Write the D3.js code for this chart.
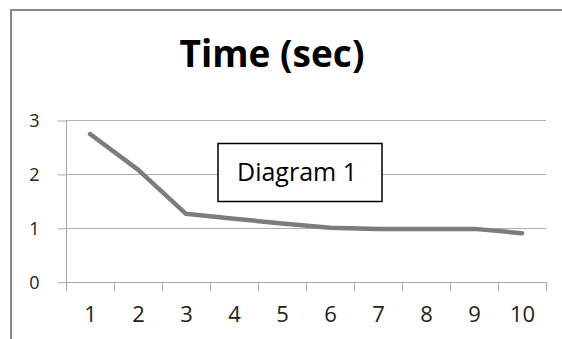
<!DOCTYPE html>
<html><head><meta charset="utf-8">
<script src="https://cdn.jsdelivr.net/npm/d3@7/dist/d3.min.js"></script>
<style>html,body{margin:0;padding:0;background:#fff;overflow:hidden}</style>
</head><body>
<script>
const categories = ["1","2","3","4","5","6","7","8","9","10"];
const timeValues = [2.74, 2.08, 1.26, 1.17, 1.08, 1.0, 0.98, 0.98, 0.98, 0.9];
const yTicks = [0, 1, 2, 3];
const titleText = "Time (sec)";
const noteText = "Diagram 1";

const W = 562, H = 339;
const font = "'Open Sans', sans-serif";
const svg = d3.select("body").append("svg").attr("width", W).attr("height", H);

// outer chart border (top and left visible)
svg.append("path").attr("d", `M11,${H} V10 H${W}`)
  .attr("fill", "none").attr("stroke", "#878787").attr("stroke-width", 2);

const x = d3.scaleBand().domain(categories).range([66, 546]);
const y = d3.scaleLinear().domain([0, 3]).range([281.7, 120]);

// gridlines
svg.append("g").selectAll("line").data(yTicks.filter(d => d > 0)).join("line")
  .attr("x1", 66).attr("x2", 546)
  .attr("y1", d => Math.round(y(d)) + 0.5).attr("y2", d => Math.round(y(d)) + 0.5)
  .attr("stroke", "#b0b0b0").attr("stroke-width", 1);

// y axis
const yAxis = svg.append("g").attr("transform", "translate(66.5,0.5)")
  .call(d3.axisLeft(y).tickValues(yTicks).tickSize(9).tickPadding(18).tickFormat(d3.format("d")));
yAxis.select(".domain").attr("stroke", "#a8a8a8").attr("d", `M-0,${y(3)}V${y(0)+8}`);
yAxis.selectAll(".tick line").attr("stroke", "#a8a8a8");
yAxis.selectAll("text").attr("font-family", font).attr("font-size", 18).attr("fill", "#222")
  .attr("dy", "0.35em");

// x axis
const xAxis = svg.append("g").attr("transform", `translate(0.5,${Math.round(y(0)) + 0.5})`)
  .call(d3.axisBottom(x).tickSizeOuter(0).tickSize(0).tickPadding(24));
xAxis.select(".domain").attr("stroke", "#a8a8a8").attr("d", "M66,0H546");
xAxis.selectAll(".tick text").attr("font-family", font).attr("font-size", 22).attr("fill", "#222");
// category boundary tick marks
svg.append("g").selectAll("line").data(categories.concat(["_end"])).join("line")
  .attr("x1", (d, i) => Math.round(i < categories.length ? x(d) : x.range()[1]) + 0.5)
  .attr("x2", (d, i) => Math.round(i < categories.length ? x(d) : x.range()[1]) + 0.5)
  .attr("y1", Math.round(y(0))).attr("y2", Math.round(y(0)) + 9)
  .attr("stroke", "#a8a8a8").attr("stroke-width", 1);

// line
const line = d3.line().x((d, i) => x(categories[i]) + x.bandwidth() / 2).y(d => y(d));
svg.append("path").datum(timeValues).attr("d", line)
  .attr("fill", "none").attr("stroke", "#7c7c7c").attr("stroke-width", 4.5)
  .attr("stroke-linejoin", "round").attr("stroke-linecap", "round");

// title
svg.append("text").attr("x", 272).attr("y", 67).attr("text-anchor", "middle")
  .attr("font-family", font).attr("font-weight", "bold").attr("font-size", 37)
  .attr("fill", "#000").text(titleText);

// annotation box
svg.append("rect").attr("x", 218).attr("y", 143.5).attr("width", 164).attr("height", 58)
  .attr("fill", "#fff").attr("stroke", "#000").attr("stroke-width", 1.5);
svg.append("text").attr("x", 297).attr("y", 181).attr("text-anchor", "middle")
  .attr("font-family", font).attr("font-size", 25).attr("fill", "#000").text(noteText);
</script>
</body></html>
